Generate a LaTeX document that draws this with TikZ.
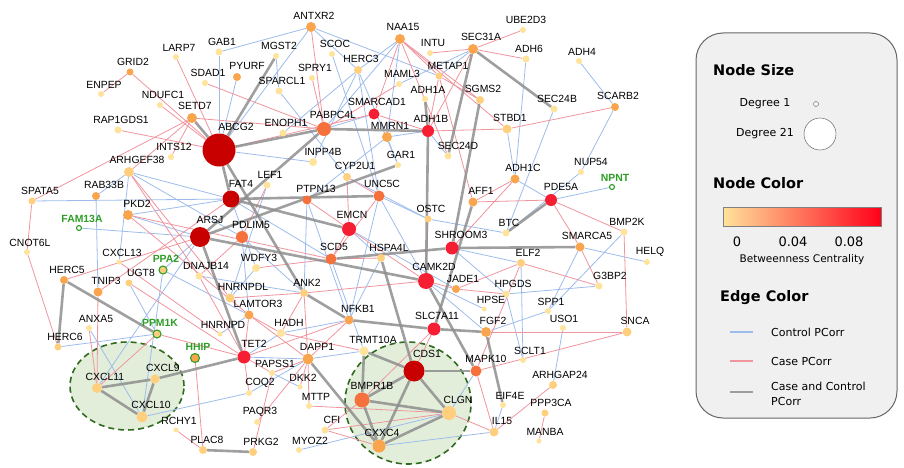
\documentclass[tikz,border=0pt]{standalone}
\usepackage{fontspec}
\usetikzlibrary{shapes,positioning}
\newfontfamily\genefam{Liberation Sans}
\newfontfamily\legfam{DejaVu Sans}
\newcommand{\genefont}{\genefam\fontsize{10.4}{12}\selectfont}
\newcommand{\legfont}{\legfam\fontsize{11}{13}\selectfont}
\newcommand{\legtitle}{\legfam\bfseries\fontsize{14.5}{17}\selectfont}

\definecolor{c0}{HTML}{FFE39A}
\definecolor{c1}{HTML}{FFCF7E}
\definecolor{c2}{HTML}{F9A54E}
\definecolor{c3}{HTML}{F5703A}
\definecolor{c4}{HTML}{F51E32}
\definecolor{c5}{HTML}{C90000}
\definecolor{cgreen}{HTML}{2E9E24}
\definecolor{cctrl}{HTML}{9DBCEB}
\definecolor{ccase}{HTML}{F0949E}
\definecolor{cboth}{HTML}{8E8E8E}
\definecolor{cfillg}{HTML}{E3EEDA}
\definecolor{cdashg}{HTML}{2F6B1F}

\pgfdeclarelayer{back}
\pgfdeclarelayer{links}
\pgfsetlayers{back,links,main}

\tikzset{
  gene/.style={circle, draw=none, inner sep=0pt, minimum size=#1},
  lbl/.style={font=\genefont, inner sep=0pt, xshift=3pt},
  gl/.style={label={[lbl]above:#1}},
  glx/.style 2 args={label={[lbl, xshift=#1]above:#2}},
  ggl/.style={label={[lbl, text=cgreen, font=\genefont\bfseries]above:#1}},
  ring/.style={draw=cgreen, line width=1.1pt},
  ctrl/.style={draw=cctrl, line width=0.8pt},
  case/.style={draw=ccase, line width=0.8pt},
  both/.style={draw=cboth, line width=2.6pt, opacity=0.85},
  cluster/.style={draw=cdashg, fill=cfillg, dashed, dash pattern=on 6pt off 4pt, line width=1.6pt},
  legendbox/.style={rectangle, draw=black!60, fill=black!6, rounded corners=27pt, line width=1pt},
  legtext/.style={font=\legfont, inner sep=0pt}
}

\begin{document}
\begin{tikzpicture}[x=1pt, y=-1pt, label distance=2.5pt]
  \useasboundingbox (0,0) rectangle (904,468);

  % genes, upper part
  \node[gene=6, fill=c0, gl=LARP7] (LARP7) at (176,57) {};
  \node[gene=7, fill=c0, gl=GAB1] (GAB1) at (219,52) {};
  \node[gene=7, fill=c2, gl=GRID2] (GRID2) at (130,72) {};
  \node[gene=6, fill=c0, gl=ENPEP] (ENPEP) at (101,94) {};
  \node[gene=6, fill=c0, gl=SDAD1] (SDAD1) at (205,83) {};
  \node[gene=6, fill=c0, gl=NDUFC1] (NDUFC1) at (160,105) {};
  \node[gene=10, fill=c2, gl=SETD7] (SETD7) at (192,118) {};
  \node[gene=7, fill=c0, gl=RAP1GDS1] (RAP1GDS1) at (118,130) {};
  \node[gene=6, fill=c0, gl=INTS12] (INTS12) at (171,157) {};
  \node[gene=33, fill=c5, glx={14pt}{ABCG2}] (ABCG2) at (219,150) {};
  \node[gene=10, fill=c2, gl=ANTXR2] (ANTXR2) at (311,27) {};
  \node[gene=6, fill=c0, gl=MGST2] (MGST2) at (276,56) {};
  \node[gene=6, fill=c0, gl=SCOC] (SCOC) at (332,54) {};
  \node[gene=10, fill=c2, gl=NAA15] (NAA15) at (400,39) {};
  \node[gene=6, fill=c0, gl=INTU] (INTU) at (430,53) {};
  \node[gene=8, fill=c2, glx={7pt}{PYURF}] (PYURF) at (237,77) {};
  \node[gene=6, fill=c0, gl=SPRY1] (SPRY1) at (312,78) {};
  \node[gene=8, fill=c1, gl=HERC3] (HERC3) at (358,70) {};
  \node[gene=7, fill=c0, gl=SPARCL1] (SPARCL1) at (279,91) {};
  \node[gene=6, fill=c0, gl=MAML3] (MAML3) at (399,84) {};
  \node[gene=7, fill=c1, glx={6pt}{METAP1}] (METAP1) at (439,76) {};
  \node[gene=6, fill=c0, gl=ADH1A] (ADH1A) at (425,99) {};
  \node[gene=11, fill=c4, gl=SMARCAD1] (SMARCAD1) at (374,114) {};
  \node[gene=12, fill=c4, gl=ADH1B] (ADH1B) at (428,131) {};
  \node[gene=7, fill=c0, gl=ENOPH1] (ENOPH1) at (283,133) {};
  \node[gene=14, fill=c3, glx={6pt}{PABPC4L}] (PABPC4L) at (324,129) {};
  \node[gene=10, fill=c2, gl=MMRN1] (MMRN1) at (387,137) {};
  \node[gene=8, fill=c0, glx={7pt}{INPP4B}] (INPP4B) at (313,162) {};
  \node[gene=6, fill=c0, gl=GAR1] (GAR1) at (398,165) {};
  \node[gene=7, fill=c0, glx={7pt}{SEC24D}] (SEC24D) at (448,156) {};
  \node[gene=6, fill=c0, gl=UBE2D3] (UBE2D3) at (523,30) {};
  \node[gene=10, fill=c2, glx={5pt}{SEC31A}] (SEC31A) at (473,49) {};
  \node[gene=7, fill=c0, gl=ADH6] (ADH6) at (526,59) {};
  \node[gene=6, fill=c0, gl=ADH4] (ADH4) at (579,61) {};
  \node[gene=8, fill=c1, gl=SGMS2] (SGMS2) at (480,100) {};
  \node[gene=7, fill=c0, gl=SEC24B] (SEC24B) at (554,109) {};
  \node[gene=8, fill=c2, gl=SCARB2] (SCARB2) at (615,107) {};
  \node[gene=9, fill=c1, gl=STBD1] (STBD1) at (507,129) {};
  \node[gene=6, fill=c0, glx={7pt}{NUP54}] (NUP54) at (581,172) {};

  % genes, middle part
  \node[gene=10, fill=c1, glx={5pt}{ARHGEF38}] (ARHGEF38) at (129,172) {};
  \node[gene=8, fill=c2, glx={5pt}{RAB33B}] (RAB33B) at (96,196) {};
  \node[gene=7, fill=c1, glx={5pt}{SPATA5}] (SPATA5) at (32,201) {};
  \node[gene=10, fill=c2, glx={6pt}{PKD2}] (PKD2) at (128,215) {};
  \node[gene=17, fill=c5, glx={7pt}{FAT4}] (FAT4) at (231,199) {};
  \node[gene=5, fill=white, ring, ggl=FAM13A] (FAM13A) at (79,228) {};
  \node[gene=20, fill=c5, glx={7pt}{ARSJ}] (ARSJ) at (200,237) {};
  \node[gene=6, fill=c0, gl=CNOT6L] (CNOT6L) at (27,252) {};
  \node[gene=5, fill=c0, gl=CXCL13] (CXCL13) at (119,262) {};
  \node[gene=8, fill=c1, ring, ggl=PPA2] (PPA2) at (163,270) {};
  \node[gene=7, fill=c0, glx={4pt}{DNAJB14}] (DNAJB14) at (199,276) {};
  \node[gene=8, fill=c2, glx={0pt}{HERC5}] (HERC5) at (64,280) {};
  \node[gene=7, fill=c1, glx={9pt}{UGT8}] (UGT8) at (129,283) {};
  \node[gene=9, fill=c2, glx={5pt}{TNIP3}] (TNIP3) at (98,292) {};
  \node[gene=8, fill=c1, glx={5pt}{CYP2U1}] (CYP2U1) at (347,177) {};
  \node[gene=7, fill=c0, gl=LEF1] (LEF1) at (267,185) {};
  \node[gene=9, fill=c3, glx={6pt}{PTPN13}] (PTPN13) at (307,200) {};
  \node[gene=11, fill=c3, gl=UNC5C] (UNC5C) at (379,196) {};
  \node[gene=7, fill=c1, gl=OSTC] (OSTC) at (428,219) {};
  \node[gene=14, fill=c4, gl=EMCN] (EMCN) at (349,229) {};
  \node[gene=12, fill=c3, glx={6pt}{PDLIM5}] (PDLIM5) at (242,237) {};
  \node[gene=11, fill=c3, gl=SCD5] (SCD5) at (331,259) {};
  \node[gene=8, fill=c1, glx={5pt}{HSPA4L}] (HSPA4L) at (381,258) {};
  \node[gene=13, fill=c4, glx={6pt}{SHROOM3}] (SHROOM3) at (452,248) {};
  \node[gene=8, fill=c0, gl=WDFY3] (WDFY3) at (256,268) {};
  \node[gene=16, fill=c4, glx={5pt}{CAMK2D}] (CAMK2D) at (426,281) {};
  \node[gene=8, fill=c1, gl=ANK2] (ANK2) at (304,293) {};
  \node[gene=9, fill=c1, glx={10pt}{HNRNPDL}] (HNRNPDL) at (230,298) {};
  \node[gene=9, fill=c2, glx={6pt}{LAMTOR3}] (LAMTOR3) at (249,315) {};
  \node[gene=9, fill=c2, glx={6pt}{NFKB1}] (NFKB1) at (349,320) {};
  \node[gene=9, fill=c2, glx={5pt}{ADH1C}] (ADH1C) at (515,179) {};
  \node[gene=5, fill=white, ring, ggl=NPNT] (NPNT) at (612,187) {};
  \node[gene=9, fill=c2, glx={5pt}{AFF1}] (AFF1) at (473,202) {};
  \node[gene=12, fill=c4, glx={7pt}{PDE5A}] (PDE5A) at (551,200) {};
  \node[gene=7, fill=c0, gl=BTC] (BTC) at (506,233) {};
  \node[gene=7, fill=c0, glx={0pt}{BMP2K}] (BMP2K) at (624,232) {};
  \node[gene=9, fill=c2, glx={4pt}{SMARCA5}] (SMARCA5) at (580,247) {};
  \node[gene=8, fill=c1, glx={4pt}{ELF2}] (ELF2) at (521,263) {};
  \node[gene=6, fill=c0, gl=HELQ] (HELQ) at (647,262) {};
  \node[gene=8, fill=c2, glx={4pt}{JADE1}] (JADE1) at (456,289) {};
  \node[gene=7, fill=c0, glx={8pt}{G3BP2}] (G3BP2) at (599,286) {};
  \node[gene=7, fill=c0, glx={4pt}{HPGDS}] (HPGDS) at (506,294) {};
  \node[gene=5, fill=c0, glx={4pt}{HPSE}] (HPSE) at (484,309) {};
  \node[gene=6, fill=c0, gl=SPP1] (SPP1) at (548,311) {};

  % genes, lower part
  \node[gene=6, fill=c0, glx={4pt}{ANXA5}] (ANXA5) at (89,328) {};
  \node[gene=8, fill=c1, ring, ggl=PPM1K] (PPM1K) at (157,334) {};
  \node[gene=5, fill=c0, gl=HNRNPD] (HNRNPD) at (220,334) {};
  \node[gene=7, fill=c1, glx={4pt}{HERC6}] (HERC6) at (58,347) {};
  \node[gene=9, fill=c2, ring, ggl=HHIP] (HHIP) at (195,358) {};
  \node[gene=9, fill=c1, glx={5pt}{CXCL9}] (CXCL9) at (155,379) {};
  \node[gene=10, fill=c1, glx={5pt}{CXCL11}] (CXCL11) at (97,388) {};
  \node[gene=11, fill=c1, glx={6pt}{CXCL10}] (CXCL10) at (142,417) {};
  \node[gene=5, fill=c0, gl=RCHY1] (RCHY1) at (176,430) {};
  \node[gene=8, fill=c1, glx={1pt}{PLAC8}] (PLAC8) at (203,450) {};
  \node[gene=8, fill=c0, glx={5pt}{HADH}] (HADH) at (281,333) {};
  \node[gene=13, fill=c4, gl=SLC7A11] (SLC7A11) at (434,329) {};
  \node[gene=13, fill=c4, glx={7pt}{TET2}] (TET2) at (244,357) {};
  \node[gene=9, fill=c0, glx={6pt}{TRMT10A}] (TRMT10A) at (364,351) {};
  \node[gene=11, fill=c2, glx={6pt}{DAPP1}] (DAPP1) at (308,359) {};
  \node[gene=21, fill=c5, glx={10pt}{CDS1}] (CDS1) at (414,371) {};
  \node[gene=6, fill=c0, gl=PAPSS1] (PAPSS1) at (272,373) {};
  \node[gene=6, fill=c0, glx={8pt}{COQ2}] (COQ2) at (249,393) {};
  \node[gene=5, fill=c0, gl=DKK2] (DKK2) at (300,387) {};
  \node[gene=15, fill=c3, glx={7pt}{BMPR1B}] (BMPR1B) at (362,400) {};
  \node[gene=6, fill=c0, glx={4pt}{MTTP}] (MTTP) at (309,406) {};
  \node[gene=6, fill=c0, gl=PAQR3] (PAQR3) at (257,422) {};
  \node[gene=7, fill=c0, glx={4pt}{CFI}] (CFI) at (325,430) {};
  \node[gene=13, fill=c2, gl=CXXC4] (CXXC4) at (379,446) {};
  \node[gene=8, fill=c1, glx={5pt}{PRKG2}] (PRKG2) at (253,452) {};
  \node[gene=6, fill=c0, glx={8pt}{MYOZ2}] (MYOZ2) at (299,450) {};
  \node[gene=14, fill=c1, glx={6pt}{CLGN}] (CLGN) at (449,413) {};
  \node[gene=10, fill=c2, glx={4pt}{FGF2}] (FGF2) at (486,332) {};
  \node[gene=6, fill=c0, glx={-2pt}{USO1}] (USO1) at (563,328) {};
  \node[gene=9, fill=c1, glx={5pt}{SNCA}] (SNCA) at (627,332) {};
  \node[gene=6, fill=c0, glx={4pt}{SCLT1}] (SCLT1) at (523,360) {};
  \node[gene=11, fill=c3, glx={7pt}{MAPK10}] (MAPK10) at (476,371) {};
  \node[gene=8, fill=c1, glx={4pt}{ARHGAP24}] (ARHGAP24) at (553,385) {};
  \node[gene=6, fill=c0, glx={4pt}{EIF4E}] (EIF4E) at (503,405) {};
  \node[gene=7, fill=c1, glx={3pt}{PPP3CA}] (PPP3CA) at (545,413) {};
  \node[gene=9, fill=c1, glx={5pt}{IL15}] (IL15) at (494,432) {};
  \node[gene=5, fill=c0, glx={3pt}{MANBA}] (MANBA) at (539,441) {};

  % shaded modules
  \begin{pgfonlayer}{back}
    \draw[cluster] (127,386) ellipse [x radius=57pt, y radius=44pt];
    \draw[cluster] (408,403) ellipse [x radius=63pt, y radius=61pt];
  \end{pgfonlayer}

  \begin{pgfonlayer}{links}
    % control edges
    \draw[ctrl] (GAB1) -- (ABCG2);
    \draw[ctrl] (GAB1) -- (ANTXR2);
    \draw[ctrl] (PYURF) -- (ABCG2);
    \draw[ctrl] (MGST2) -- (SPARCL1);
    \draw[ctrl] (ANTXR2) -- (ABCG2);
    \draw[ctrl] (ANTXR2) -- (HERC3);
    \draw[ctrl] (ANTXR2) -- (METAP1);
    \draw[ctrl] (SCOC) -- (UNC5C);
    \draw[ctrl] (NAA15) -- (HERC3);
    \draw[ctrl] (NAA15) -- (PABPC4L);
    \draw[ctrl] (NAA15) -- (MMRN1);
    \draw[ctrl] (HERC3) -- (ENOPH1);
    \draw[ctrl] (HERC3) -- (GAR1);
    \draw[ctrl] (HERC3) -- (UNC5C);
    \draw[ctrl] (HERC3) -- (INPP4B);
    \draw[ctrl] (SPARCL1) -- (CYP2U1);
    \draw[ctrl] (SEC31A) -- (METAP1);
    \draw[ctrl] (SEC31A) -- (MAML3);
    \draw[ctrl] (ADH6) -- (ADH1C);
    \draw[ctrl] (ADH4) -- (SCARB2);
    \draw[ctrl] (SCARB2) -- (NUP54);
    \draw[ctrl] (SEC24B) -- (BTC);
    \draw[ctrl] (STBD1) -- (ADH1C);
    \draw[ctrl] (ADH1B) -- (SEC24D);
    \draw[ctrl] (ADH1B) -- (MMRN1);
    \draw[ctrl] (MMRN1) -- (GAR1);
    \draw[ctrl] (MMRN1) -- (PTPN13);
    \draw[ctrl] (SMARCAD1) -- (PABPC4L);
    \draw[ctrl] (INPP4B) -- (ABCG2);
    \draw[ctrl] (ARHGEF38) -- (RAB33B);
    \draw[ctrl] (ARHGEF38) -- (FAT4);
    \draw[ctrl] (ARHGEF38) -- (PDLIM5);
    \draw[ctrl] (SPATA5) -- (FAT4);
    \draw[ctrl] (RAB33B) -- (TNIP3);
    \draw[ctrl] (PKD2) -- (FAT4);
    \draw[ctrl] (PKD2) -- (ARSJ);
    \draw[ctrl] (FAM13A) -- (ARSJ);
    \draw[ctrl] (PPA2) -- (ARSJ);
    \draw[ctrl] (PPA2) -- (LAMTOR3);
    \draw[ctrl] (PPA2) -- (CXCL10);
    \draw[ctrl] (CXCL13) -- (ARHGEF38);
    \draw[ctrl] (UGT8) -- (PPM1K);
    \draw[ctrl] (ANXA5) -- (CXCL10);
    \draw[ctrl] (HERC6) -- (PPM1K);
    \draw[ctrl] (CXCL10) -- (COQ2);
    \draw[ctrl] (CXCL11) -- (ARSJ);
    \draw[ctrl] (FAT4) -- (SCD5);
    \draw[ctrl] (FAT4) -- (WDFY3);
    \draw[ctrl] (LEF1) -- (HNRNPDL);
    \draw[ctrl] (PDLIM5) -- (ANK2);
    \draw[ctrl] (PDLIM5) -- (LAMTOR3);
    \draw[ctrl] (PTPN13) -- (NFKB1);
    \draw[ctrl] (PTPN13) -- (ANK2);
    \draw[ctrl] (UNC5C) -- (OSTC);
    \draw[ctrl] (UNC5C) -- (CAMK2D);
    \draw[ctrl] (UNC5C) -- (NFKB1);
    \draw[ctrl] (EMCN) -- (HSPA4L);
    \draw[ctrl] (EMCN) -- (JADE1);
    \draw[ctrl] (OSTC) -- (BTC);
    \draw[ctrl] (CYP2U1) -- (OSTC);
    \draw[ctrl] (HSPA4L) -- (NFKB1);
    \draw[ctrl] (SCD5) -- (TRMT10A);
    \draw[ctrl] (CAMK2D) -- (HPSE);
    \draw[ctrl] (CAMK2D) -- (FGF2);
    \draw[ctrl] (SHROOM3) -- (ELF2);
    \draw[ctrl] (SHROOM3) -- (HPGDS);
    \draw[ctrl] (ADH1C) -- (PDE5A);
    \draw[ctrl] (NUP54) -- (BTC);
    \draw[ctrl] (NPNT) -- (PDE5A);
    \draw[ctrl] (SMARCA5) -- (HELQ);
    \draw[ctrl] (SMARCA5) -- (SPP1);
    \draw[ctrl] (BMP2K) -- (SPP1);
    \draw[ctrl] (HPGDS) -- (G3BP2);
    \draw[ctrl] (HPGDS) -- (SCLT1);
    \draw[ctrl] (SPP1) -- (FGF2);
    \draw[ctrl] (USO1) -- (ARHGAP24);
    \draw[ctrl] (SCLT1) -- (ELF2);
    \draw[ctrl] (MAPK10) -- (CLGN);
    \draw[ctrl] (EIF4E) -- (IL15);
    \draw[ctrl] (IL15) -- (CXXC4);
    \draw[ctrl] (MYOZ2) -- (CLGN);
    \draw[ctrl] (COQ2) -- (DAPP1);
    \draw[ctrl] (HADH) -- (NFKB1);
    \draw[ctrl] (HADH) -- (TET2);
    \draw[ctrl] (TET2) -- (DAPP1);
    \draw[ctrl] (DAPP1) -- (TRMT10A);
    \draw[ctrl] (PAPSS1) -- (DKK2);
    \draw[ctrl] (HNRNPD) -- (LAMTOR3);
    \draw[ctrl] (HNRNPDL) -- (WDFY3);
    \draw[ctrl] (DNAJB14) -- (ANK2);

    % case edges
    \draw[case] (LARP7) -- (ABCG2);
    \draw[case] (GRID2) -- (ENPEP);
    \draw[case] (GRID2) -- (ABCG2);
    \draw[case] (NDUFC1) -- (ABCG2);
    \draw[case] (RAP1GDS1) -- (ABCG2);
    \draw[case] (SDAD1) -- (PABPC4L);
    \draw[case] (SETD7) -- (PABPC4L);
    \draw[case] (SETD7) -- (INTS12);
    \draw[case] (SETD7) -- (ARHGEF38);
    \draw[case] (SETD7) -- (SPATA5);
    \draw[case] (ANTXR2) -- (PABPC4L);
    \draw[case] (SPRY1) -- (PABPC4L);
    \draw[case] (NAA15) -- (SMARCAD1);
    \draw[case] (NAA15) -- (METAP1);
    \draw[case] (NAA15) -- (SGMS2);
    \draw[case] (NAA15) -- (STBD1);
    \draw[case] (NAA15) -- (SEC24D);
    \draw[case] (INTU) -- (SEC31A);
    \draw[case] (MAML3) -- (PABPC4L);
    \draw[case] (SMARCAD1) -- (ADH1B);
    \draw[case] (SMARCAD1) -- (ABCG2);
    \draw[case] (METAP1) -- (ADH1B);
    \draw[case] (METAP1) -- (SGMS2);
    \draw[case] (METAP1) -- (AFF1);
    \draw[case] (UBE2D3) -- (SEC31A);
    \draw[case] (SEC31A) -- (ADH6);
    \draw[case] (SEC31A) -- (ADH1B);
    \draw[case] (SCARB2) -- (STBD1);
    \draw[case] (STBD1) -- (ADH1B);
    \draw[case] (ARHGEF38) -- (DNAJB14);
    \draw[case] (ARHGEF38) -- (HNRNPDL);
    \draw[case] (SPATA5) -- (CNOT6L);
    \draw[case] (CNOT6L) -- (HERC6);
    \draw[case] (PKD2) -- (LAMTOR3);
    \draw[case] (PKD2) -- (SCD5);
    \draw[case] (HERC5) -- (ARSJ);
    \draw[case] (TNIP3) -- (FAT4);
    \draw[case] (TNIP3) -- (CXCL11);
    \draw[case] (ANXA5) -- (CXCL11);
    \draw[case] (UGT8) -- (TET2);
    \draw[case] (CXCL13) -- (HNRNPD);
    \draw[case] (DNAJB14) -- (TET2);
    \draw[case] (DNAJB14) -- (PDLIM5);
    \draw[case] (PPM1K) -- (TET2);
    \draw[case] (PPM1K) -- (CXCL11);
    \draw[case] (HHIP) -- (PLAC8);
    \draw[case] (RCHY1) -- (PLAC8);
    \draw[case] (HNRNPDL) -- (ANK2);
    \draw[case] (LEF1) -- (PDLIM5);
    \draw[case] (PTPN13) -- (EMCN);
    \draw[case] (UNC5C) -- (SCD5);
    \draw[case] (EMCN) -- (SCD5);
    \draw[case] (EMCN) -- (CAMK2D);
    \draw[case] (CYP2U1) -- (UNC5C);
    \draw[case] (CYP2U1) -- (EMCN);
    \draw[case] (OSTC) -- (CAMK2D);
    \draw[case] (HSPA4L) -- (SCD5);
    \draw[case] (SCD5) -- (WDFY3);
    \draw[case] (ANK2) -- (HADH);
    \draw[case] (ANK2) -- (CAMK2D);
    \draw[case] (ANK2) -- (DAPP1);
    \draw[case] (LAMTOR3) -- (HADH);
    \draw[case] (LAMTOR3) -- (DAPP1);
    \draw[case] (LAMTOR3) -- (TET2);
    \draw[case] (NFKB1) -- (TET2);
    \draw[case] (NFKB1) -- (DAPP1);
    \draw[case] (HADH) -- (TRMT10A);
    \draw[case] (TET2) -- (PAPSS1);
    \draw[case] (TET2) -- (COQ2);
    \draw[case] (DAPP1) -- (DKK2);
    \draw[case] (DAPP1) -- (PAPSS1);
    \draw[case] (DAPP1) -- (MTTP);
    \draw[case] (MTTP) -- (CLGN);
    \draw[case] (CFI) -- (CXXC4);
    \draw[case] (CFI) -- (BMPR1B);
    \draw[case] (CFI) -- (CLGN);
    \draw[case] (PAQR3) -- (DAPP1);
    \draw[case] (PRKG2) -- (PAPSS1);
    \draw[case] (BMPR1B) -- (SLC7A11);
    \draw[case] (CAMK2D) -- (JADE1);
    \draw[case] (JADE1) -- (ELF2);
    \draw[case] (JADE1) -- (HPGDS);
    \draw[case] (ELF2) -- (G3BP2);
    \draw[case] (ELF2) -- (MAPK10);
    \draw[case] (AFF1) -- (PDE5A);
    \draw[case] (AFF1) -- (ADH1C);
    \draw[case] (ADH1C) -- (SHROOM3);
    \draw[case] (PDE5A) -- (SMARCA5);
    \draw[case] (PDE5A) -- (BMP2K);
    \draw[case] (BMP2K) -- (SNCA);
    \draw[case] (SMARCA5) -- (G3BP2);
    \draw[case] (SNCA) -- (MAPK10);
    \draw[case] (SNCA) -- (FGF2);
    \draw[case] (MAPK10) -- (IL15);
    \draw[case] (ARHGAP24) -- (IL15);
    \draw[case] (PPP3CA) -- (MANBA);
    \draw[case] (IL15) -- (CLGN);
    \draw[case] (CDS1) -- (SLC7A11);

    % case and control edges
    \draw[both] (SETD7) -- (ABCG2);
    \draw[both] (MGST2) -- (ABCG2);
    \draw[both] (ABCG2) -- (PABPC4L);
    \draw[both] (ABCG2) -- (FAT4);
    \draw[both] (ABCG2) -- (ANK2);
    \draw[both] (PABPC4L) -- (ADH1B);
    \draw[both] (PABPC4L) -- (ARSJ);
    \draw[both] (ADH1A) -- (ADH1B);
    \draw[both] (ADH1B) -- (CAMK2D);
    \draw[both] (SEC31A) -- (SEC24B);
    \draw[both] (SEC31A) -- (SEC24D);
    \draw[both] (SGMS2) -- (SHROOM3);
    \draw[both] (AFF1) -- (SLC7A11);
    \draw[both] (PDE5A) -- (BTC);
    \draw[both] (SHROOM3) -- (SMARCA5);
    \draw[both] (SCD5) -- (SHROOM3);
    \draw[both] (ARSJ) -- (CAMK2D);
    \draw[both] (ARSJ) -- (GAR1);
    \draw[both] (ARSJ) -- (TET2);
    \draw[both] (FAT4) -- (UNC5C);
    \draw[both] (FAT4) -- (EMCN);
    \draw[both] (ANK2) -- (NFKB1);
    \draw[both] (NFKB1) -- (SLC7A11);
    \draw[both] (SLC7A11) -- (FGF2);
    \draw[both] (HSPA4L) -- (CDS1);
    \draw[both] (CAMK2D) -- (MAPK10);
    \draw[both] (FGF2) -- (EIF4E);
    \draw[both] (CDS1) -- (MAPK10);
    \draw[both] (CDS1) -- (BMPR1B);
    \draw[both] (CDS1) -- (CLGN);
    \draw[both] (CDS1) -- (CXXC4);
    \draw[both] (BMPR1B) -- (CXXC4);
    \draw[both] (BMPR1B) -- (CLGN);
    \draw[both] (CXXC4) -- (CLGN);
    \draw[both] (TRMT10A) -- (BMPR1B);
    \draw[both] (TRMT10A) -- (CDS1);
    \draw[both] (DAPP1) -- (CXXC4);
    \draw[both] (CXCL11) -- (CXCL9);
    \draw[both] (CXCL11) -- (CXCL10);
    \draw[both] (CXCL9) -- (CXCL10);
    \draw[both] (CXCL9) -- (TET2);
    \draw[both] (HERC5) -- (HERC6);
    \draw[both] (HERC5) -- (PPM1K);
    \draw[both] (PLAC8) -- (PRKG2);
  \end{pgfonlayer}

  % legend
  \node[legendbox, minimum width=201pt, minimum height=385pt] (legend) at (796.5,225.5) {};
  \node[anchor=west, inner sep=0pt, font=\legtitle] (sizeT) at (713,70) {Node Size};
  \node[legtext] (deg1) at (765,104) {Degree 1};
  \node[circle, draw=black!70, fill=white, inner sep=0pt, minimum size=5pt] (deg1c) at (816,104) {};
  \node[legtext] (deg21) at (765,134) {Degree 21};
  \node[circle, draw=black!70, fill=white, inner sep=0pt, minimum size=32pt] (deg21c) at (820,134) {};
  \node[anchor=west, inner sep=0pt, font=\legtitle] (colorT) at (713,183) {Node Color};
  \node[draw=black!50, left color=c0, middle color=c2, right color=red!90!magenta, minimum width=158pt, minimum height=19pt, inner sep=0pt] (bar) at (802,216.5) {};
  \node[legtext, font=\legfam\fontsize{13}{15}\selectfont] (v0) at (737,242) {0};
  \node[legtext, font=\legfam\fontsize{13}{15}\selectfont] (v4) at (793,242) {0.04};
  \node[legtext, font=\legfam\fontsize{13}{15}\selectfont] (v8) at (849,242) {0.08};
  \node[legtext, font=\legfam\fontsize{10.5}{12}\selectfont] (btw) at (802,260) {Betweenness Centrality};
  \node[anchor=west, inner sep=0pt, font=\legtitle] (edgeT) at (720,298) {Edge Color};
  \coordinate (k1a) at (730,332); \coordinate (k1b) at (753,332);
  \coordinate (k2a) at (730,361); \coordinate (k2b) at (753,361);
  \coordinate (k3a) at (730,392); \coordinate (k3b) at (753,392);
  \draw[ctrl, line width=1.6pt] (k1a) -- (k1b);
  \draw[case, line width=1.6pt] (k2a) -- (k2b);
  \draw[both, line width=1.8pt] (k3a) -- (k3b);
  \node[legtext, anchor=west] (ctrlT) at (771,332) {Control PCorr};
  \node[legtext, anchor=west] (caseT) at (771,361) {Case PCorr};
  \node[legtext, anchor=west, align=left, font=\legfam\fontsize{11}{15}\selectfont] (bothT) at (771,394) {Case and Control\\PCorr};
\end{tikzpicture}
\end{document}
